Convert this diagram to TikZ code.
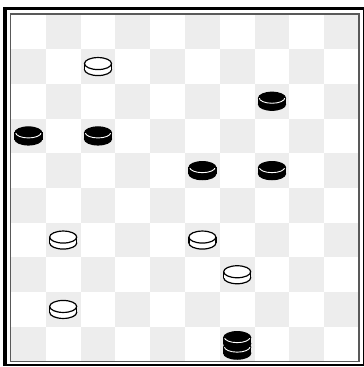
\documentclass[tikz,border=0pt]{standalone}
\begin{document}
\begin{tikzpicture}[x=1pt,y=-1pt,
  darksq/.style={fill=black!7},
  innerframe/.style={draw=black!65,line width=1.2pt},
  outl/.style={line width=1.2pt},
  wpiece/.pic={
    \filldraw[fill=white,draw=black,outl] (0,3) ellipse[x radius=13.5,y radius=6];
    \fill[white] (-13.5,-3) rectangle (13.5,3);
    \draw[outl] (-13.5,-3) -- (-13.5,3) (13.5,-3) -- (13.5,3);
    \filldraw[fill=white,draw=black,outl] (0,-3) ellipse[x radius=13.5,y radius=6];
  },
  bpiece/.pic={
    \filldraw[fill=black,draw=black,outl] (0,3) ellipse[x radius=13.5,y radius=6];
    \filldraw[fill=black,draw=black,outl] (-13.5,-3) rectangle (13.5,3);
    \filldraw[fill=black,draw=black,outl] (0,-3) ellipse[x radius=13.5,y radius=6];
    \begin{scope}
      \clip (-14,-2.5) rectangle (14,5);
      \draw[white,line width=0.9pt] (0,-3.4) ellipse[x radius=12.8,y radius=5.4];
    \end{scope}
  }]
\useasboundingbox (0,0) rectangle (364,367);
\fill[white] (0,0) rectangle (364,367);
% outer black frame
\fill[black] (3.3,6.7) rectangle (364,366.3);
\fill[white] (7.3,10) rectangle (362.5,364.3);
% board squares
\foreach \r in {0,...,9}{
  \foreach \c in {0,...,9}{
    \pgfmathtruncatemacro{\odd}{mod(\r+\c,2)}
    \ifnum\odd=1
      \fill[darksq] ({11+\c*34.8},{14.5+\r*34.7}) rectangle ++(34.8,34.7);
    \fi
  }
}
% inner frame
\draw[innerframe] (10.6,14) rectangle (359,361.6);
% pieces
\foreach \c/\r in {2/1,1/6,5/6,6/7,1/8}{
  \pic at ({11+(\c+0.5)*34.8},{14.5+(\r+0.5)*34.7}) {wpiece};
}
\foreach \c/\r in {7/2,0/3,2/3,5/4,7/4}{
  \pic at ({11+(\c+0.5)*34.8},{14.5+(\r+0.5)*34.7}) {bpiece};
}
% king
\pic at ({11+6.5*34.8},{14.5+9.5*34.7+6}) {bpiece};
\pic at ({11+6.5*34.8},{14.5+9.5*34.7-3.5}) {bpiece};
\end{tikzpicture}
\end{document}
